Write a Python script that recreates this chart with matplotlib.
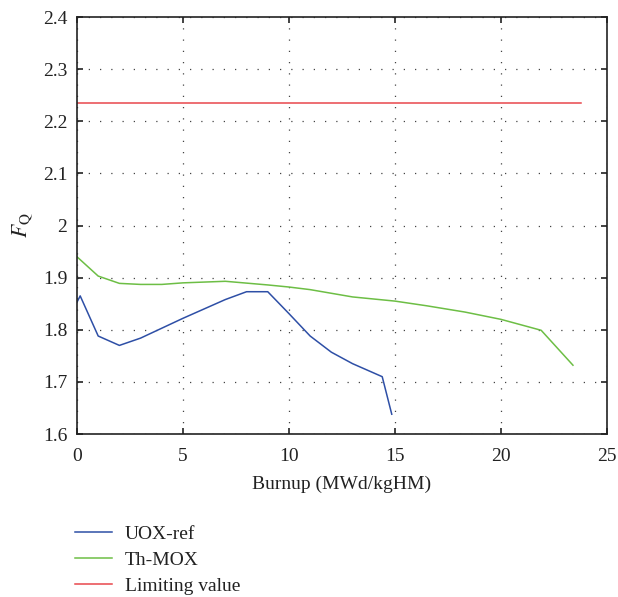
import matplotlib

matplotlib.use("Agg")
import matplotlib.pyplot as plt

plt.rcParams["font.family"] = ["Liberation Serif", "DejaVu Serif"]
plt.rcParams["mathtext.fontset"] = "stix"

# burnup (MWd/kgHM) and F_Q values
uox_x = [0, 0.15, 1, 2, 3, 4, 5, 6, 7, 8, 9, 10, 11, 12, 13, 14.4, 14.85]
uox_y = [1.853, 1.865, 1.788, 1.770, 1.784, 1.803, 1.822, 1.840, 1.858, 1.873, 1.873,
         1.831, 1.788, 1.757, 1.735, 1.710, 1.638]
thmox_x = [0, 1, 2, 3, 4, 5, 7, 9, 10, 11, 13, 15, 16.5, 18.3, 20, 21.9, 23.4]
thmox_y = [1.940, 1.903, 1.889, 1.887, 1.887, 1.890, 1.893, 1.886, 1.882, 1.877, 1.863,
           1.855, 1.846, 1.834, 1.820, 1.799, 1.732]
limit_x = [0, 23.8]
limit_y = [2.235, 2.235]

fig = plt.figure(figsize=(6.18, 5.97), dpi=100)
ax = fig.add_axes([0.1246, 0.273, 0.8574, 0.6985])

ax.plot(uox_x, uox_y, color="#2E4FA6", lw=1.1, label="UOX-ref")
ax.plot(thmox_x, thmox_y, color="#6DBE45", lw=1.1, label="Th-MOX")
ax.plot(limit_x, limit_y, color="#E8474C", lw=1.1, label="Limiting value")

ax.set_xlim(0, 25)
ax.set_ylim(1.6, 2.4)
ax.set_xticks([0, 5, 10, 15, 20, 25])
ax.set_yticks([1.6, 1.7, 1.8, 1.9, 2.0, 2.1, 2.2, 2.3, 2.4])
ax.set_yticklabels(["1.6", "1.7", "1.8", "1.9", "2", "2.1", "2.2", "2.3", "2.4"])
ax.tick_params(direction="in", top=True, right=True, length=4, width=1.2,
               labelsize=14, colors="#222222", pad=7)
ax.tick_params(axis="x", pad=10)
ax.grid(True, color="#444444", ls=(0, (1, 8)), lw=0.9)
for s in ax.spines.values():
    s.set_linewidth(1.2)
    s.set_color("#222222")

ax.set_xlabel("Burnup (MWd/kgHM)", fontsize=14, color="#222222", labelpad=8)
ax.set_ylabel(r"$F_{\mathrm{Q}}$", fontsize=15.5, color="#222222", labelpad=6)

handles, labels = ax.get_legend_handles_labels()
fig.legend(handles, labels, loc="upper left", bbox_to_anchor=(0.122, 0.12),
           frameon=False, fontsize=14, handlelength=1.9, handletextpad=0.65,
           labelspacing=0.44, borderpad=0, borderaxespad=0, labelcolor="#222222")

fig.savefig("out.png", dpi=100)
